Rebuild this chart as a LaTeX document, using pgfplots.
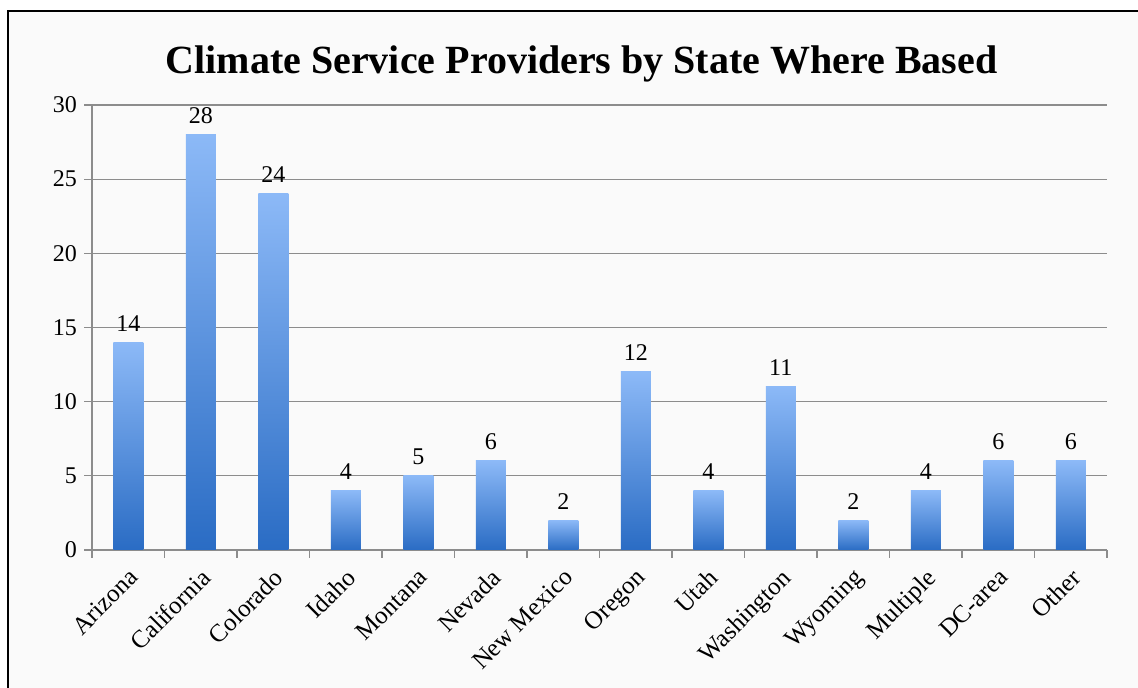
\documentclass[border=0pt]{standalone}
\usepackage{fontspec}
\setmainfont{Liberation Serif}
\usepackage{pgfplots}
\pgfplotsset{compat=1.18}
\definecolor{bartop}{HTML}{8CB9F7}
\definecolor{barbot}{HTML}{2A6CC4}
\definecolor{gridc}{HTML}{8C8C8C}
\definecolor{bgc}{HTML}{FAFAFA}
\pgfplotsset{mybar/.style={draw=none, top color=bartop, bottom color=barbot}}
\begin{document}
\begin{tikzpicture}
\useasboundingbox (0,0) rectangle (569pt,344pt);
\fill[bgc] (4pt,0) rectangle (569pt,338.5pt);
\draw[black, line width=1.2pt] (4pt,0) -- (4pt,338.5pt) -- (569pt,338.5pt);
\node[anchor=base, font=\fontsize{20}{24}\selectfont\bfseries] at (290.75pt,307pt) {Climate Service Providers by State Where Based};
\begin{axis}[
  at={(46pt,69pt)}, anchor=south west,
  scale only axis, width=507.5pt, height=222.5pt,
  xmin=-0.5, xmax=13.5, ymin=0, ymax=30,
  axis x line*=bottom, axis y line*=left,
  axis line style={gridc, line width=0.6pt, -},
  ybar, bar width=15pt, bar shift=0pt,
  ytick={0,5,...,30},
  ymajorgrids, grid style={gridc, line width=0.6pt},
  xtick={-0.5,0.5,...,13.5}, xticklabels={},
  tick align=outside, major tick length=4pt,
  tick style={gridc, line width=0.6pt},
  extra x ticks={0,...,13},
  extra x tick labels={Arizona,California,Colorado,Idaho,Montana,Nevada,New Mexico,Oregon,Utah,Washington,Wyoming,Multiple,DC-area,Other},
  extra x tick style={major tick length=0pt, grid=none, tick label style={xshift=-0.5pt, yshift=-7pt, rotate=45, anchor=north east, font=\fontsize{12.5}{14}\selectfont, inner sep=1pt}},
  yticklabel style={font=\fontsize{12}{14}\selectfont},
  /pgf/number format/assume math mode=true,
  nodes near coords, nodes near coords style={font=\fontsize{12}{14}\selectfont, black, yshift=2pt},
  clip=false,
]
\addplot[mybar] coordinates {(0,14)};
\addplot[mybar] coordinates {(1,28)};
\addplot[mybar] coordinates {(2,24)};
\addplot[mybar] coordinates {(3,4)};
\addplot[mybar] coordinates {(4,5)};
\addplot[mybar] coordinates {(5,6)};
\addplot[mybar] coordinates {(6,2)};
\addplot[mybar] coordinates {(7,12)};
\addplot[mybar] coordinates {(8,4)};
\addplot[mybar] coordinates {(9,11)};
\addplot[mybar] coordinates {(10,2)};
\addplot[mybar] coordinates {(11,4)};
\addplot[mybar] coordinates {(12,6)};
\addplot[mybar] coordinates {(13,6)};
\end{axis}
\end{tikzpicture}
\end{document}
